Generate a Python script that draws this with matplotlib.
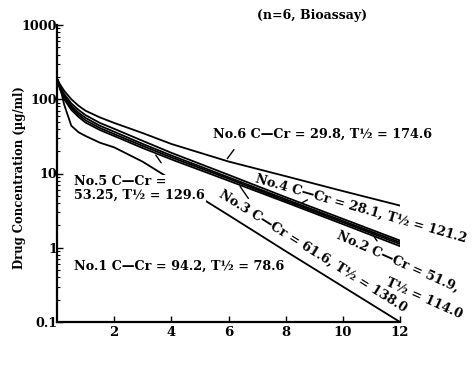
import matplotlib
matplotlib.use("Agg")
import matplotlib.pyplot as plt
import numpy as np

# ---- data ----
times = [0, 0.1, 0.25, 0.5, 0.75, 1, 1.5, 2, 3, 4, 6, 8, 10, 12]
no6 = [190, 160, 130, 100, 82, 70, 57, 48, 35, 25, 14.5, 9.2, 5.8, 3.7]
no4 = [190, 150, 118, 88, 72, 61, 48, 40, 27.5, 19, 9.6, 4.8, 2.45, 1.25]
no5 = [190, 146, 112, 82, 66, 56, 44, 36.5, 25, 17.5, 8.9, 4.5, 2.3, 1.18]
no3 = [190, 142, 106, 77, 62, 52, 41, 34, 23.5, 16.5, 8.5, 4.3, 2.2, 1.12]
no2 = [190, 138, 100, 72, 58, 48.5, 38.5, 32, 22, 15.5, 8.0, 4.1, 2.08, 1.05]
no1 = [190, 150, 85, 44, 36, 32, 26, 22.5, 14.4, 8.3, 2.75, 0.9, 0.3, 0.1]

x_ticks = [2, 4, 6, 8, 10, 12]
x_ticklabels = ["2", "4", "6", "8", "10", "12"]
y_ticks = [0.1, 1, 10, 100, 1000]
y_ticklabels = ["0.1", "1", "10", "100", "1000"]

label6 = "No.6 C\u2014Cr = 29.8, T\u00bd = 174.6"
label4 = "No.4 C\u2014Cr = 28.1, T\u00bd = 121.2"
label2a = "No.2 C\u2014Cr = 51.9,"
label2b = "T\u00bd = 114.0"
label3 = "No.3 C\u2014Cr = 61.6, T\u00bd = 138.0"
label5 = "No.5 C\u2014Cr =\n53.25, T\u00bd = 129.6"
label1 = "No.1 C\u2014Cr = 94.2, T\u00bd = 78.6"
title = "(n=6, Bioassay)"
ylabel = "Drug Concentration (\u00b5g/ml)"

plt.rcParams['font.family'] = ['DejaVu Serif']
plt.rcParams['font.weight'] = 'bold'

fig = plt.figure(figsize=(4.73, 3.65), dpi=100)
ax = fig.add_axes([57/473, 1-322/365, (400-57)/473, (322-25)/365])

for ys in [no6, no4, no5, no3, no2, no1]:
    ax.plot(times, ys, color='black', lw=1.3, zorder=2)

ax.set_yscale('log')
ax.set_xlim(0, 12)
ax.set_ylim(0.1, 1000)
ax.spines['top'].set_visible(False)
ax.spines['right'].set_visible(False)
ax.spines['left'].set_linewidth(1.6)
ax.spines['bottom'].set_linewidth(1.6)
ax.set_xticks(x_ticks)
ax.set_xticklabels(x_ticklabels, fontsize=9.5, fontweight='bold')
ax.set_yticks(y_ticks)
ax.set_yticklabels(y_ticklabels, fontsize=9.2, fontweight='bold')
ax.tick_params(axis='both', which='major', direction='in', length=4, width=1, pad=3)
ax.tick_params(axis='y', which='minor', direction='in', length=2.5, width=0.8)
ax.tick_params(axis='y', which='major', pad=0)

fs = 9.2
ax.text(5.45, 34, label6, fontsize=fs, fontweight='bold', ha='left', va='center', clip_on=False)
ax.text(10.65, 3.35, label4, fontsize=fs, fontweight='bold', ha='center', va='center',
        rotation=-16, rotation_mode='anchor', clip_on=False)
ax.text(11.93, 0.65, label2a, fontsize=fs, fontweight='bold', ha='center', va='center',
        rotation=-24, rotation_mode='anchor', clip_on=False)
ax.text(12.85, 0.21, label2b, fontsize=fs, fontweight='bold', ha='center', va='center',
        rotation=-24, rotation_mode='anchor', clip_on=False)
ax.text(8.95, 0.9, label3, fontsize=fs, fontweight='bold', ha='center', va='center',
        rotation=-32, rotation_mode='anchor', clip_on=False)
ax.text(0.6, 6.3, label5, fontsize=fs, fontweight='bold', ha='left', va='center',
        linespacing=1.0, zorder=5,
        bbox=dict(facecolor='white', edgecolor='none', pad=0.5))
ax.text(0.6, 0.555, label1, fontsize=fs, fontweight='bold', ha='left', va='center')

lk = dict(arrowstyle='-', lw=1, color='black')
ax.annotate('', xy=(5.9, 14.8), xytext=(6.25, 22.5), arrowprops=lk)
ax.annotate('', xy=(8.5, 3.9), xytext=(8.85, 4.6), arrowprops=lk)
ax.annotate('', xy=(11.0, 1.6), xytext=(11.25, 1.15), arrowprops=lk)
ax.annotate('', xy=(6.35, 7.2), xytext=(6.75, 4.3), arrowprops=lk)
ax.annotate('', xy=(3.4, 19), xytext=(3.7, 13), arrowprops=lk)

fig.text(312/473, 1-15/365, title, fontsize=9, fontweight='bold', ha='center', va='center')
fig.text(20/473, 1-178/365, ylabel, fontsize=8.4, fontweight='bold', ha='center', va='center',
         rotation=90)

fig.savefig('out.png', dpi=100)
